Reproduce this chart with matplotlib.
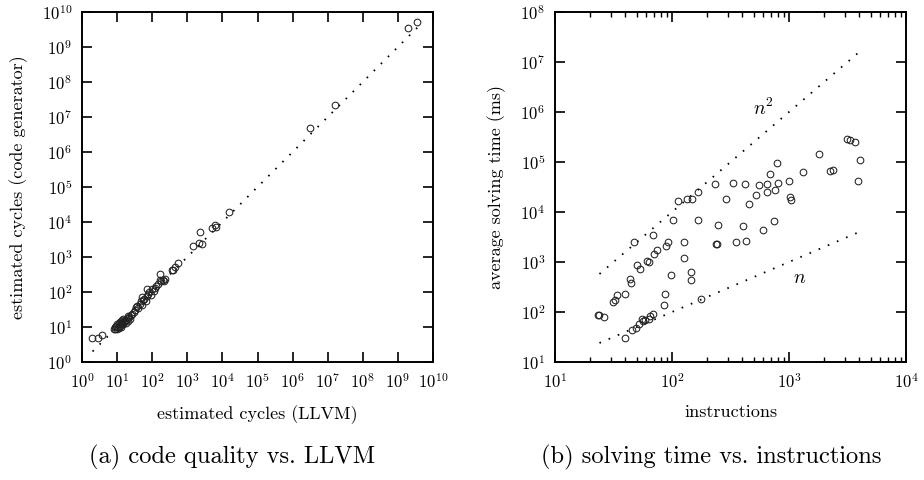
import numpy as np
import matplotlib
matplotlib.use("Agg")
from matplotlib import pyplot as plt
from matplotlib.ticker import LogLocator, NullLocator, NullFormatter

plt.rcParams['font.family'] = 'cmr10'
plt.rcParams['mathtext.fontset'] = 'cm'
plt.rcParams['axes.formatter.use_mathtext'] = True
plt.rcParams['axes.unicode_minus'] = False

# (a) estimated cycles: LLVM vs code generator
llvm_cycles = [1.9, 2.8, 3.8,
               8, 8.5, 9, 9.5, 10, 10, 10.5, 11, 11, 12, 12, 12.5, 13, 13, 14, 14,
               15, 15, 16, 17, 18, 18, 20, 20, 21, 22, 24, 25, 27, 30, 32, 35, 38,
               40, 45, 48, 50, 50, 55, 60, 65, 69, 70, 75, 80, 90, 100, 110, 120,
               130, 150, 166, 166, 180, 200, 210, 230, 355, 400, 447, 550,
               1410, 2190, 2290, 2600, 4900, 6170, 6600, 15800,
               3.2e6, 1.6e7, 1.9e9, 3.5e9]
gen_cycles = [4.9, 4.9, 5.9,
              8.5, 10, 9, 11, 9, 12, 10, 13, 9.5, 11, 14, 12, 10, 15, 13, 16,
              12, 17, 14, 15, 16, 13, 18, 20, 15, 19, 17, 22, 24, 26, 30, 38, 40,
              35, 45, 55, 42, 74, 60, 65, 55, 120, 75, 90, 100, 80, 120, 110, 130,
              150, 170, 324, 219, 210, 220, 200, 230, 427, 420, 525, 676,
              2040, 2450, 5250, 2300, 6600, 8130, 7000, 19500,
              4.9e6, 2.2e7, 3.5e9, 5.2e9]
diag = [2, 4.2e9]

# (b) solving time vs instructions
instructions = [23.4, 24, 26.3, 31.6, 32.4, 33.9, 39.8, 43.6, 44.7, 47.3, 50.1, 53.7,
                61.7, 64, 69.2, 70.8, 74.1, 89.1, 93.3, 102, 112, 126, 126, 135, 148,
                145, 145, 166, 166, 234, 245, 240, 242, 288, 331, 355, 407, 417, 427,
                457, 525, 550, 603, 646, 646, 692, 741, 759, 794, 813, 1000, 1023,
                1047, 1318, 1820, 2239, 2399, 3162, 3311, 3631, 4074, 3890,
                39.8, 45.7, 49, 52.5, 55, 56.2, 58.9, 63.1, 64.6, 69.2, 85.1, 87.1,
                97.7, 178]
solve_ms = [89, 88, 81, 155, 174, 219, 234, 447, 372, 2570, 871, 724,
            1047, 1000, 3470, 1413, 1778, 2042, 2570, 6918, 16600, 2455, 1230, 18620, 18620,
            620, 430, 24550, 6918, 37150, 5495, 2290, 2300, 18200, 38900, 2570, 5370, 37150, 2630,
            14450, 21380, 33900, 4266, 37150, 25700, 57540, 6607, 26920, 97720, 38900, 40740, 19500,
            17780, 61660, 147900, 64570, 70790, 288400, 281800, 245500, 112200, 40740,
            30.9, 43.7, 46.8, 57.5, 74, 67.6, 69.2, 74.1, 81.3, 93.3, 138, 224,
            550, 182]
n_range = [24, 4300]

fig = plt.figure(figsize=(9.24, 4.8), dpi=100)
ax1 = fig.add_axes([82/924, 1-362/480, 351/924, 350/480])
ax2 = fig.add_axes([555/924, 1-362/480, 351/924, 350/480])

dots = dict(color='black', lw=1.3, linestyle=(0, (0.9, 4.6)))
circ = dict(linestyle='none', marker='o', ms=4.8, mfc='none', mec='#222222', mew=0.75)

ax1.plot(diag, diag, **dots)
ax1.plot(llvm_cycles, gen_cycles, **circ)
ax1.set_xscale('log')
ax1.set_yscale('log')
ax1.set_xlim(1, 1e10)
ax1.set_ylim(1, 1e10)
for a in (ax1.xaxis, ax1.yaxis):
    a.set_major_locator(LogLocator(base=10, numticks=20))
    a.set_minor_locator(NullLocator())
ax1.set_xlabel('estimated cycles (LLVM)', fontsize=13, labelpad=10)
ax1.set_ylabel('estimated cycles (code generator)', fontsize=13, labelpad=10)

nx = np.array(n_range, dtype=float)
ax2.plot(nx, nx, **dots)
ax2.plot(nx, nx**2, **dots)
ax2.plot(instructions, solve_ms, **circ)
ax2.set_xscale('log')
ax2.set_yscale('log')
ax2.set_xlim(10, 1e4)
ax2.set_ylim(10, 1e8)
ax2.xaxis.set_major_locator(LogLocator(base=10, numticks=20))
ax2.xaxis.set_minor_locator(LogLocator(base=10, subs=np.arange(2, 10), numticks=20))
ax2.xaxis.set_minor_formatter(NullFormatter())
ax2.yaxis.set_major_locator(LogLocator(base=10, numticks=20))
ax2.yaxis.set_minor_locator(NullLocator())
ax2.text(600, 1.2e6, '$n^2$', fontsize=14, ha='center', va='center')
ax2.text(1230, 480, '$n$', fontsize=14, ha='center', va='center')
ax2.set_xlabel('instructions', fontsize=13, labelpad=10)
ax2.set_ylabel('average solving time (ms)', fontsize=13, labelpad=10)

for ax in (ax1, ax2):
    ax.tick_params(which='both', direction='in', top=True, right=True, labelsize=12, pad=7)
    ax.tick_params(which='major', length=7, width=1.2)
    ax.tick_params(which='minor', length=3.5, width=1.0)
    for s in ax.spines.values():
        s.set_linewidth(1.4)

fig.text(232/924, 1-457/480, '(a) code quality vs. LLVM', fontsize=17.6, ha='center', va='center')
fig.text(711/924, 1-457/480, '(b) solving time vs. instructions', fontsize=17.6, ha='center', va='center')

fig.savefig('out.png', dpi=100)
